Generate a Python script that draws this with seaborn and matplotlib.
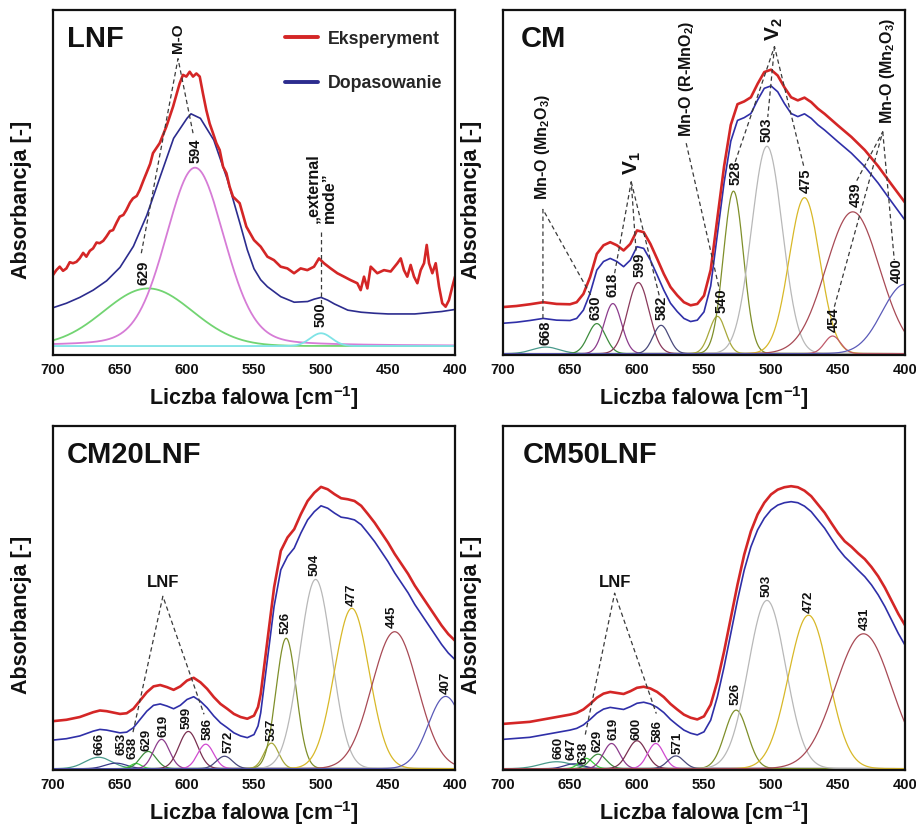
import numpy as np
import matplotlib
matplotlib.use("Agg")
import matplotlib.pyplot as plt
from matplotlib.lines import Line2D
import seaborn as sns

# ---------------------------------------------------------------- data
# Band components: centre [cm-1], height [% of axis], width (sigma), lorentz fraction
lnf_centers = [629, 594, 500]
lnf_heights = [16.7, 51.7, 3.7]
lnf_sigmas = [33, 22, 8]
lnf_eta = [0.0, 0.2, 0.0]
lnf_colors = ["#72d472", "#d67cd6", "#7fe3e6"]
lnf_base = 2.6

lnf_fit_wn = [700, 690, 680, 670, 660, 650, 640, 630, 620, 610, 600, 597, 590, 580,
              570, 560, 555, 550, 545, 540, 530, 520, 510, 505, 500, 495, 490, 480,
              470, 460, 450, 430, 410, 400]
lnf_fit = [13.7, 15.0, 16.7, 18.8, 21.5, 25.4, 31.5, 40.5, 51.7, 62.8, 68.6, 69.9, 68.6, 62.3,
           51.0, 37.5, 30.5, 25.0, 21.8, 19.8, 16.9, 15.3, 15.5, 16.2, 16.7, 15.9, 14.8, 13.0,
           12.4, 12.1, 11.9, 11.9, 12.6, 13.2]

lnf_exp_wn = [700, 697.5, 695, 692.5, 690, 687.5, 685.1, 682.5, 680.1, 677.5, 675.1, 672.5,
              670.1, 667.5, 665.2, 662.5, 660.2, 657.5, 655.2, 652.5, 650.2, 647.5, 645.3,
              642.5, 640.3, 637.5, 635.3, 632.5, 630.3, 627.5, 625.4, 620.4, 615.4, 610.4,
              605.5, 603.0, 600.5, 598.0, 595.5, 593.0, 590.5, 588.1, 585.6, 583.1, 580.6,
              578.1, 575.6, 573.1, 570.6, 568.2, 565.7, 560.7, 555.7, 550.0, 545.0, 540.0,
              535.1, 530.1, 525.1, 520.1, 515.2, 510.2, 505.2, 501.5, 497.8, 492.8, 487.8,
              482.8, 477.9, 472.9, 470.4, 467.9, 465.4, 462.9, 458.0, 453.0, 448.0, 443.0,
              440.5, 438.1, 435.6, 433.1, 430.6, 428.1, 425.6, 423.1, 421.1, 419.4, 416.9,
              414.4, 411.9, 409.5, 407.0, 404.5, 402.0, 400.0]
lnf_exp = [23.2, 24.6, 25.6, 24.4, 25.1, 26.9, 26.6, 27.0, 28.0, 29.6, 28.5, 30.2,
           30.9, 32.6, 32.4, 33.1, 34.3, 35.9, 36.2, 38.4, 40.1, 40.6, 42.0,
           44.2, 45.4, 46.1, 47.8, 50.6, 52.7, 55.4, 58.5, 61.4, 66.2, 72.0,
           78.7, 81.2, 80.7, 82.1, 80.7, 81.6, 80.7, 75.8, 71.0, 67.1, 64.3,
           61.4, 59.4, 54.6, 52.7, 48.8, 45.9, 44.0, 37.2, 33.3, 31.4, 28.5,
           27.5, 25.6, 25.1, 23.7, 25.1, 24.6, 25.6, 28.0, 26.6, 25.1, 23.7,
           22.7, 21.7, 20.8, 18.8, 22.7, 19.3, 25.6, 23.7, 24.6, 24.2, 26.6,
           28.0, 24.6, 22.7, 26.1, 22.7, 20.8, 24.6, 26.6, 31.9, 26.6, 23.7,
           26.6, 19.8, 15.0, 14.0, 15.9, 19.8, 22.7]

cm_centers = [668, 630, 618, 599, 582, 540, 528, 503, 475, 454, 439, 400]
cm_heights = [1.9, 8.7, 14.5, 20.6, 8.2, 10.8, 47.1, 60.1, 45.2, 5.1, 41.1, 20.1]
cm_sigmas = [10, 6.5, 6.5, 8, 6, 6, 7.5, 11.5, 11.5, 6, 20, 17]
cm_colors = ["#4a9a8c", "#3d8c3d", "#8c3c8c", "#8a3a5c", "#4a4a7c", "#a8a83a",
             "#7f8f2a", "#b8b8b8", "#d8b828", "#c05a6a", "#a84a55", "#5a5ab8"]

cm_wn = [700, 690, 680, 670, 660, 650, 645, 640, 635, 630, 625, 620, 615, 610, 605, 600,
         595, 590, 585, 580, 575, 570, 565, 560, 555, 550, 545, 540, 535, 530, 525, 520,
         515, 510, 505, 500, 495, 490, 485, 480, 475, 470, 465, 460, 450, 440, 430, 420,
         410, 400]
cm_fit = [9.2, 9.5, 10.0, 10.6, 10.1, 10.0, 10.6, 13.0, 17.9, 24.6, 27.1, 28.0, 27.1, 25.6,
          27.5, 31.4, 30.9, 27.5, 23.2, 18.8, 15.0, 12.6, 10.6, 9.7, 10.1, 12.5, 20.0, 35.0,
          50.0, 62.0, 68.0, 68.8, 70.0, 73.9, 77.3, 78.0, 76.3, 72.9, 70.0, 69.1, 69.9, 68.6,
          66.7, 65.2, 61.8, 58.5, 54.6, 49.8, 44.4, 39.1]
cm_exp = [13.9, 14.2, 14.7, 15.3, 14.8, 14.7, 15.3, 17.7, 22.6, 29.3, 31.8, 32.7, 31.8, 30.3,
          32.2, 36.1, 35.6, 32.2, 27.9, 23.5, 19.7, 17.3, 15.3, 14.4, 14.8, 17.2, 24.7, 39.7,
          54.7, 66.7, 72.7, 73.5, 74.7, 78.6, 82.0, 82.7, 81.0, 77.6, 74.7, 73.8, 74.6, 73.3,
          71.4, 69.9, 66.5, 63.2, 59.4, 54.7, 49.4, 44.2]

cm20_centers = [666, 653, 638, 629, 619, 599, 586, 572, 537, 526, 504, 477, 445, 407]
cm20_heights = [3.3, 1.6, 1.5, 5.0, 8.5, 10.8, 7.1, 3.6, 7.4, 37.9, 55.0, 46.6, 39.8, 21.0]
cm20_sigmas = [10, 8, 4, 6, 6, 7, 6, 6, 5.5, 7.5, 12, 13, 17, 13]
cm20_colors = ["#4a9a8c", "#3a3a8a", "#3ccf3c", "#3d8c3d", "#8c3c8c", "#7a3050",
               "#d04ad0", "#4a4a7c", "#a8a83a", "#7f8f2a", "#b8b8b8", "#d8b828",
               "#a84a55", "#5a5ab8"]

cm20_wn = [700, 690, 680, 670, 665, 660, 650, 645, 640, 635, 630, 625, 620, 615, 610, 605,
           600, 595, 590, 585, 580, 575, 570, 565, 560, 555, 550, 547, 545, 540, 535, 530,
           525, 520, 515, 510, 505, 500, 495, 490, 485, 480, 475, 470, 465, 460, 455, 450,
           445, 440, 435, 430, 425, 420, 415, 410, 405, 400]
cm20_fit = [8.7, 9.1, 9.9, 11.3, 11.8, 11.6, 10.8, 11.0, 12.3, 14.7, 17.1, 18.8, 19.2, 18.6,
            17.8, 18.8, 20.5, 21.3, 20.0, 18.1, 15.7, 13.7, 12.3, 10.8, 9.9, 9.4, 10.3, 12.8,
            16.6, 32.1, 47.6, 58.2, 62.1, 64.5, 68.9, 72.7, 75.1, 76.8, 76.1, 74.7, 73.5, 73.2,
            72.7, 71.3, 68.9, 66.4, 63.5, 60.6, 57.3, 54.4, 51.5, 48.1, 45.2, 42.3, 39.4, 36.5,
            34.0, 32.1]
cm20_exp = [14.2, 14.6, 15.4, 16.8, 17.3, 17.1, 16.3, 16.5, 17.8, 20.2, 22.6, 24.3, 24.7, 24.1,
            23.3, 24.3, 26.0, 26.8, 25.5, 23.6, 21.2, 19.2, 17.8, 16.3, 15.4, 14.9, 15.8, 18.3,
            22.1, 37.6, 53.1, 63.7, 67.6, 70.0, 74.4, 78.2, 80.6, 82.3, 81.6, 80.2, 79.0, 78.7,
            78.2, 76.8, 74.4, 71.9, 69.0, 66.1, 62.8, 59.9, 57.0, 53.6, 50.7, 47.8, 44.9, 42.0,
            39.5, 37.6]

cm50_centers = [660, 647, 638, 629, 619, 600, 586, 571, 526, 503, 472, 431]
cm50_heights = [2.0, 1.4, 3.0, 4.2, 7.3, 8.1, 7.3, 3.7, 17.0, 48.9, 44.6, 39.2]
cm50_sigmas = [12, 7, 5, 6, 6, 7, 6, 6, 8.5, 14, 15, 21]
cm50_colors = ["#4a9a8c", "#3a3a8a", "#3ccf3c", "#3d8c3d", "#8c3c8c", "#7a3050",
               "#d04ad0", "#4a4a7c", "#7f8f2a", "#b8b8b8", "#d8b828", "#a84a55"]

cm50_wn = [700, 690, 680, 670, 660, 650, 645, 640, 635, 630, 625, 620, 615, 610, 605, 600,
           595, 590, 585, 580, 575, 570, 565, 560, 555, 550, 545, 540, 535, 530, 525, 520,
           515, 510, 505, 500, 495, 490, 485, 480, 475, 470, 465, 460, 455, 450, 445, 440,
           435, 430, 425, 420, 415, 410, 405, 400]
cm50_fit = [8.9, 9.2, 9.5, 10.2, 10.9, 11.6, 12.1, 13.1, 14.7, 16.5, 17.7, 18.2, 17.9, 17.6,
            18.4, 19.4, 19.7, 19.2, 18.2, 16.7, 14.7, 13.1, 11.6, 10.7, 10.2, 11.1, 14.5, 21.3,
            30.0, 39.7, 49.4, 58.1, 64.9, 69.8, 73.2, 75.6, 77.0, 77.7, 78.0, 77.7, 76.7, 75.1,
            72.7, 70.3, 67.3, 64.4, 62.0, 60.1, 58.1, 56.2, 53.8, 50.9, 47.5, 43.6, 39.7, 36.3]
cm50_exp = [13.4, 13.7, 14.0, 14.7, 15.4, 16.1, 16.6, 17.6, 19.2, 21.0, 22.2, 22.7, 22.4, 22.1,
            22.9, 23.9, 24.2, 23.7, 22.7, 21.2, 19.2, 17.6, 16.1, 15.2, 14.7, 15.6, 19.0, 25.8,
            34.5, 44.2, 53.9, 62.6, 69.4, 74.3, 77.7, 80.1, 81.5, 82.2, 82.5, 82.2, 81.2, 79.6,
            77.2, 74.8, 71.8, 68.9, 66.5, 64.9, 63.0, 61.3, 59.0, 56.3, 53.0, 49.2, 45.4, 42.1]

# Peak labels (text, x, bottom of text)
lnf_lab = ["629", "594", "500"]
lnf_lab_x = [632.3, 593.5, 500.2]
lnf_lab_y = [20.3, 55.7, 8.1]

cm_lab = ["668", "630", "618", "599", "582", "540", "528", "503", "475", "454", "439", "400"]
cm_lab_x = [668.4, 631.1, 618.0, 598.1, 581.4, 537.2, 526.7, 503.6, 474.2, 453.2, 437.0, 406.0]
cm_lab_y = [2.9, 10.1, 16.9, 22.7, 10.1, 12.1, 49.3, 61.8, 47.0, 6.8, 43.0, 20.8]

cm20_lab = ["666", "653", "638", "629", "619", "599", "586", "572", "537", "526", "504",
            "477", "445", "407"]
cm20_lab_x = [665.5, 649.2, 640.3, 630.2, 617.7, 600.0, 584.9, 569.3, 536.7, 526.3, 504.6,
              477.2, 446.9, 407.2]
cm20_lab_y = [4.4, 4.3, 3.3, 5.6, 9.6, 11.9, 8.6, 4.8, 8.4, 39.4, 56.3, 47.6, 41.3, 22.0]

cm50_lab = ["660", "647", "638", "629", "619", "600", "586", "571", "526", "503", "472", "431"]
cm50_lab_x = [658.8, 649.0, 639.6, 629.6, 617.9, 600.4, 585.0, 569.4, 526.2, 503.1, 472.0, 429.8]
cm50_lab_y = [3.3, 3.0, 1.6, 5.2, 8.6, 8.8, 8.1, 4.7, 18.9, 50.4, 45.5, 40.7]

# Group annotations: (text, x, y, fontsize, rotation) and dashed guide polylines
lnf_groups = [("M-O", 606.7, 87.5, 11, 90),
              ("\u201eexternal\nmode\u201d", 500.0, 38.3, 11.5, 90)]
lnf_guides = [([634.1, 606.7, 595.5], [29.5, 85.9, 64.3]),
              ([500.0, 500.0], [35.7, 14.5])]

cm_groups = [("Mn-O (Mn$_\\mathbf{2}$O$_\\mathbf{3}$)", 670.2, 44.9, 11.5, 90),
             ("V$_\\mathbf{1}$", 603.1, 52.2, 15, 90),
             ("Mn-O (R-MnO$_\\mathbf{2}$)", 563.3, 63.3, 11.5, 90),
             ("V$_\\mathbf{2}$", 497.4, 91.0, 15, 90),
             ("Mn-O (Mn$_\\mathbf{2}$O$_\\mathbf{3}$)", 412.9, 67.1, 11.5, 90)]
cm_guides = [([670.2, 670.2, 634.6], [10.6, 42.2, 17.4]),
             ([616.7, 604.3, 600.6], [23.7, 50.2, 29.5]),
             ([604.3, 583.2], [50.2, 16.9]),
             ([563.3, 538.4], [61.4, 18.8]),
             ([526.7, 497.4, 475.5], [56.0, 89.4, 54.6]),
             ([497.4, 502.4], [89.4, 69.0]),
             ([452.7, 416.6, 437.0], [14.0, 64.7, 49.8]),
             ([416.6, 408.0], [64.7, 27.5])]

cm20_groups = [("LNF", 617.5, 54.4, 12, 0)]
cm20_guides = [([640.3, 618.0, 587.3], [11.0, 50.5, 16.2])]

cm50_groups = [("LNF", 616.7, 54.6, 12, 0)]
cm50_guides = [([638.6, 616.7, 585.6], [10.3, 51.4, 16.4])]

ticks = [700, 650, 600, 550, 500, 450, 400]

# ---------------------------------------------------------------- style
sns.set_theme(style="white")
plt.rcParams["font.family"] = ["Liberation Sans", "DejaVu Sans"]
plt.rcParams["font.weight"] = "bold"
plt.rcParams["mathtext.fontset"] = "custom"
plt.rcParams["mathtext.bf"] = "Liberation Sans:bold"
plt.rcParams["mathtext.rm"] = "Liberation Sans:bold"
plt.rcParams["mathtext.default"] = "bf"

RED = "#d42626"
BLUE = "#2f2fa8"
GUIDE = "#3a3a3a"

grid = np.linspace(400, 700, 601)


def band(x, center, height, sigma, eta=0.0):
    g = np.exp(-0.5 * ((x - center) / sigma) ** 2)
    hw = sigma * np.sqrt(2 * np.log(2))
    lor = 1.0 / (1.0 + ((x - center) / hw) ** 2)
    return height * ((1 - eta) * g + eta * lor)


def draw_panel(ax, title, centers, heights, sigmas, colors, fit_wn, fit_y, exp_wn, exp_y,
               labels, lab_x, lab_y, lab_size, groups, guides, base=0.4, eta=None,
               comp_lw=0.9, blue=BLUE, title_x=0.04):
    if eta is None:
        eta = [0.0] * len(centers)
    for c, h, s, e, col in zip(centers, heights, sigmas, eta, colors):
        sns.lineplot(x=grid, y=base + band(grid, c, h, s, e), ax=ax, color=col,
                     linewidth=comp_lw, estimator=None)
    sns.lineplot(x=fit_wn, y=fit_y, ax=ax, color=blue, linewidth=1.2, estimator=None)
    sns.lineplot(x=exp_wn, y=exp_y, ax=ax, color=RED, linewidth=1.9, estimator=None)

    for gx, gy in guides:
        ax.plot(gx, gy, color=GUIDE, linewidth=0.9, linestyle=(0, (3.5, 2.5)))
    for txt, x, y in zip(labels, lab_x, lab_y):
        ax.text(x, y, txt, rotation=90, ha="center", va="bottom", fontsize=lab_size,
                fontweight="bold", color="#111111")
    for txt, x, y, fs, rot in groups:
        if rot == 90:
            ax.text(x, y, txt, rotation=90, ha="center", va="bottom", fontsize=fs,
                    fontweight="bold", multialignment="left", color="#111111")
        else:
            ax.text(x, y, txt, ha="center", va="center", fontsize=fs,
                    fontweight="bold", color="#111111")

    ax.text(title_x, 0.957, title, transform=ax.transAxes, ha="left", va="top",
            fontsize=21, fontweight="bold", color="#111111")

    ax.set_xlim(700, 400)
    ax.set_ylim(0, 100)
    ax.set_xticks(ticks)
    ax.set_xticklabels([str(t) for t in ticks], fontsize=10.5, fontweight="bold")
    ax.set_yticks([])
    ax.tick_params(axis="x", direction="in", length=3, width=1.2, pad=6, colors="#111111")
    for sp in ax.spines.values():
        sp.set_color("#111111")
        sp.set_linewidth(1.6)
        sp.set_visible(True)
    ax.set_xlabel("Liczba falowa [cm$^{\\mathbf{-1}}$]", fontsize=15.5, fontweight="bold",
                  labelpad=5, color="#111111")
    ax.set_ylabel("Absorbancja [-]", fontsize=15.5, fontweight="bold", color="#111111")
    ax.yaxis.set_label_coords(-0.052, 0.45)


fig = plt.figure(figsize=(9.16, 8.27), dpi=100)
W, H = 402 / 916, 345 / 827
ax_lnf = fig.add_axes([53 / 916, 1 - 355 / 827, W, H])
ax_cm = fig.add_axes([503 / 916, 1 - 355 / 827, W, H])
ax_cm20 = fig.add_axes([53 / 916, 1 - 770 / 827, W, 344 / 827])
ax_cm50 = fig.add_axes([503 / 916, 1 - 770 / 827, W, 344 / 827])

draw_panel(ax_lnf, "LNF", lnf_centers, lnf_heights, lnf_sigmas, lnf_colors,
           lnf_fit_wn, lnf_fit, lnf_exp_wn, lnf_exp, lnf_lab, lnf_lab_x, lnf_lab_y, 10.5,
           lnf_groups, lnf_guides, base=lnf_base, eta=lnf_eta, comp_lw=1.3,
           blue="#2c2c8e", title_x=0.035)
draw_panel(ax_cm, "CM", cm_centers, cm_heights, cm_sigmas, cm_colors,
           cm_wn, cm_fit, cm_wn, cm_exp, cm_lab, cm_lab_x, cm_lab_y, 10.5,
           cm_groups, cm_guides, title_x=0.045)
draw_panel(ax_cm20, "CM20LNF", cm20_centers, cm20_heights, cm20_sigmas, cm20_colors,
           cm20_wn, cm20_fit, cm20_wn, cm20_exp, cm20_lab, cm20_lab_x, cm20_lab_y, 9.5,
           cm20_groups, cm20_guides, title_x=0.035)
draw_panel(ax_cm50, "CM50LNF", cm50_centers, cm50_heights, cm50_sigmas, cm50_colors,
           cm50_wn, cm50_fit, cm50_wn, cm50_exp, cm50_lab, cm50_lab_x, cm50_lab_y, 9.5,
           cm50_groups, cm50_guides, title_x=0.05)

handles = [Line2D([], [], color=RED, linewidth=2.8), Line2D([], [], color="#2c2c8e", linewidth=2.8)]
ax_lnf.legend(handles, ["Eksperyment", "Dopasowanie"], loc="upper left",
              bbox_to_anchor=(0.578, 0.94), frameon=False,
              prop={"weight": "bold", "size": 12.8}, handlelength=1.85,
              handletextpad=0.55, labelspacing=1.55, borderpad=0, borderaxespad=0)

fig.savefig("out.png", dpi=100)
